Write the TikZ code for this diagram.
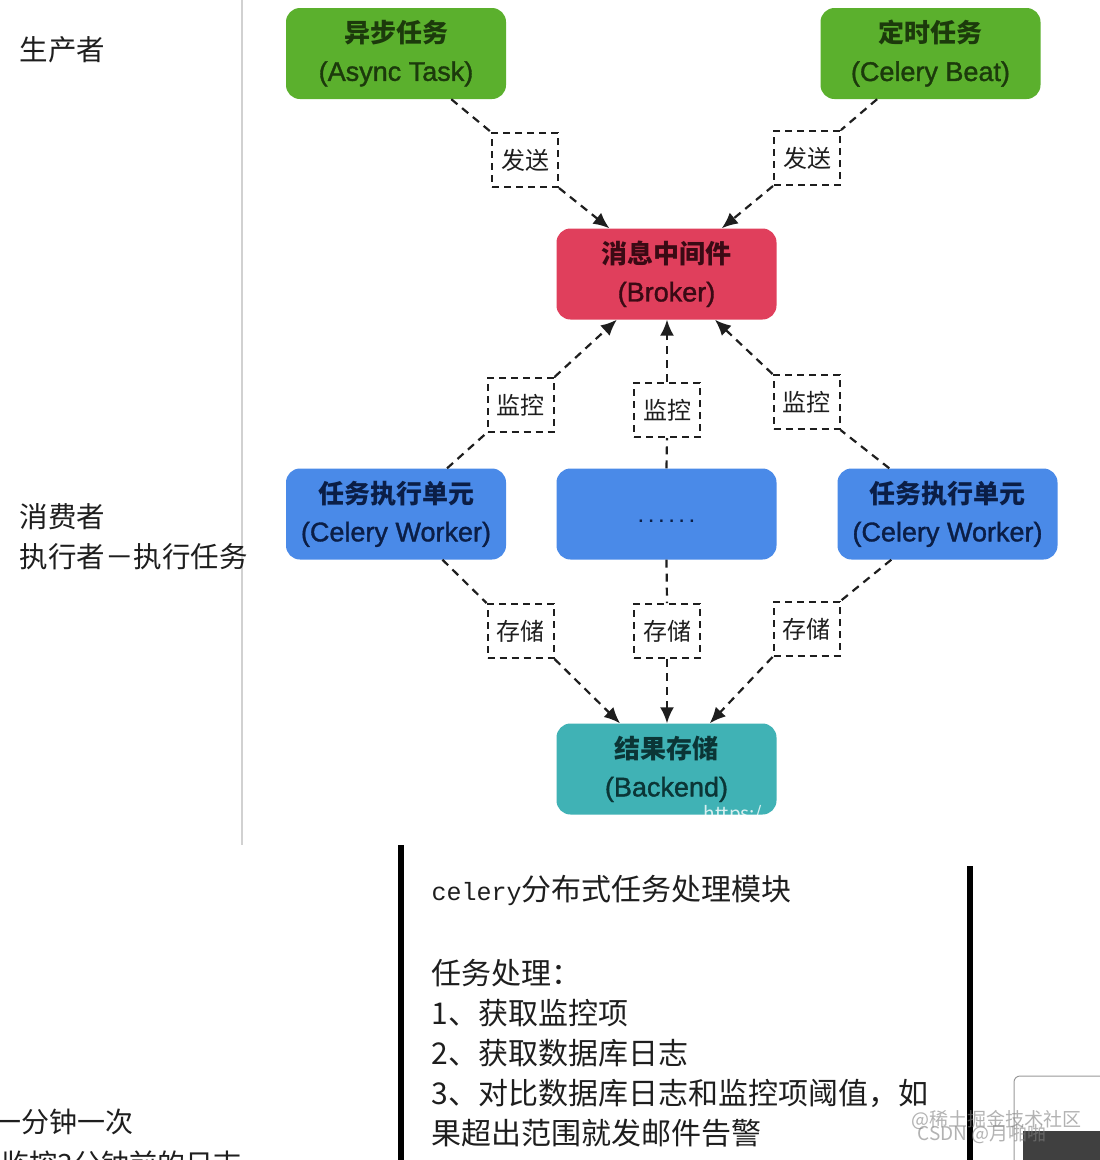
\documentclass[tikz,border=0pt]{standalone}
\usepackage{fontspec}
\setmainfont{Noto Sans CJK SC}
\newfontfamily\monofont{Liberation Mono}
\newfontfamily\latfont[FakeBold=1.3]{Liberation Sans}
\usetikzlibrary{arrows.meta}
\definecolor{cgreen}{HTML}{5BB02D}
\definecolor{tgreen}{HTML}{1C3A0C}
\definecolor{cred}{HTML}{E03F5C}
\definecolor{tred}{HTML}{3A0A14}
\definecolor{cblue}{HTML}{4A8AE8}
\definecolor{tblue}{HTML}{0B1E46}
\definecolor{cteal}{HTML}{40B2B5}
\definecolor{tteal}{HTML}{0B3536}
\definecolor{ink}{HTML}{1E1E1E}
\tikzset{
  comp/.style={rounded corners=14pt, minimum width=220pt, minimum height=91pt,
    align=center, inner sep=0pt, font=\fontsize{26}{38}\selectfont\bfseries},
  lbl/.style={draw=ink, dashed, dash pattern=on 7pt off 5pt, line width=2pt, fill=white,
    minimum width=66pt, minimum height=54pt, inner sep=0pt, text=ink,
    font=\fontsize{24}{24}\selectfont},
  conn/.style={draw=ink, line width=2.2pt, dash pattern=on 8pt off 6pt},
  arr/.style={-{Latex[length=16pt,width=14pt]}},
  side/.style={anchor=west, align=left, text=ink, font=\fontsize{28.5}{40}\selectfont},
  body/.style={anchor=west, text=ink, font=\fontsize{30}{30}\selectfont},
  wm/.style={anchor=west, text=gray, opacity=0.6, font=\fontsize{19}{19}\selectfont}
}
\newcommand{\lt}[1]{{\latfont\mdseries\fontsize{27}{38}\selectfont #1}}
\begin{document}
\begin{tikzpicture}[x=1pt,y=-1pt]
\clip (0,0) rectangle (1100,1160);
\fill[white] (0,0) rectangle (1100,1160);
% left divider
\draw[black!18, line width=1.5pt] (242,0) -- (242,845);
% side labels
\node[side] (prod) at (16,50) {生产者};
\node[side] (cons) at (16,537) {消费者\\执行者－执行任务};
% main nodes
\node[comp, fill=cgreen, text=tgreen] (async) at (396,53.5) {异步任务\\\lt{(Async Task)}};
\node[comp, fill=cgreen, text=tgreen] (beat) at (930.5,53.5) {定时任务\\\lt{(Celery Beat)}};
\node[comp, fill=cred, text=tred] (broker) at (666.5,274) {消息中间件\\\lt{(Broker)}};
\node[comp, fill=cblue, text=tblue] (w1) at (396,514) {任务执行单元\\\lt{(Celery Worker)}};
\node[comp, fill=cblue, text=tblue] (w2) at (666.5,514) {\raisebox{-16pt}{\monofont\fontsize{17}{17}\selectfont\bfseries ......}};
\node[comp, fill=cblue, text=tblue] (w3) at (947.5,514) {任务执行单元\\\lt{(Celery Worker)}};
\node[comp, fill=cteal, text=tteal] (backend) at (666.5,769) {结果存储\\\lt{(Backend)}};
% edge labels
\node[lbl] (s1) at (525,160) {发送};
\node[lbl] (s2) at (807,158) {发送};
\node[lbl] (m1) at (520.5,405) {监控};
\node[lbl] (m2) at (667,410) {监控};
\node[lbl] (m3) at (806.5,402) {监控};
\node[lbl] (c1) at (520.5,631) {存储};
\node[lbl] (c2) at (667,631) {存储};
\node[lbl] (c3) at (806.5,629) {存储};
% connectors
\draw[conn] (async) -- (s1.north west);
\draw[conn,arr] (s1.south east) -- (broker);
\draw[conn] (beat) -- (s2.north east);
\draw[conn,arr] (s2.south west) -- (broker);
\draw[conn] (w1) -- (m1.south west);
\draw[conn,arr] (m1.north east) -- (broker);
\draw[conn] (w2.north) -- (m2.south);
\draw[conn,arr] (m2.north) -- (m2.north |- broker.south);
\draw[conn] (w3) -- (m3.south east);
\draw[conn,arr] (m3.north west) -- (broker);
\draw[conn] (w1) -- (c1.north west);
\draw[conn,arr] (c1.south east) -- (backend);
\draw[conn] (w2.south) -- (c2.north);
\draw[conn,arr] (c2.south) -- (c2.south |- backend.north);
\draw[conn] (w3) -- (c3.north east);
\draw[conn,arr] (c3.south west) -- (backend);
% url watermark over backend
\node[anchor=west, text=white, opacity=0.8, font=\fontsize{19}{19}\selectfont] (url) at (700,815) {https:/};
% bottom panel
\draw[black, line width=6pt] (401,845) -- (401,1165);
\draw[black, line width=6pt] (970,866) -- (970,1165);
\node[body] (t0) at (428,890) {{\monofont\fontsize{25}{25}\selectfont celery}分布式任务处理模块};
\node[body] (t1) at (428,973) {任务处理：};
\node[body] (t2) at (428,1013) {1、获取监控项};
\node[body] (t3) at (428,1053) {2、获取数据库日志};
\node[body] (t4) at (428,1093) {3、对比数据库日志和监控项阈值，如};
\node[body] (t5) at (428,1133) {果超出范围就发邮件告警};
% cut-off text at lower left
\node[anchor=east, text=ink, font=\fontsize{28}{28}\selectfont] (p1) at (137,1122) {一分钟一次};
\node[anchor=base east, text=ink, font=\fontsize{28}{28}\selectfont] (p2) at (245,1174) {监控3分钟前的日志};
% lower right widget
\draw[black!40, fill=white, rounded corners=6pt, line width=1pt] (1014,1076) rectangle (1120,1180);
\fill[black!75] (1023,1131) rectangle (1100,1160);
% watermarks
\node[wm] (wm1) at (908,1120) {@稀土掘金技术社区};
\node[wm] (wm2) at (914,1134) {CSDN @月啪啪};
\end{tikzpicture}
\end{document}
